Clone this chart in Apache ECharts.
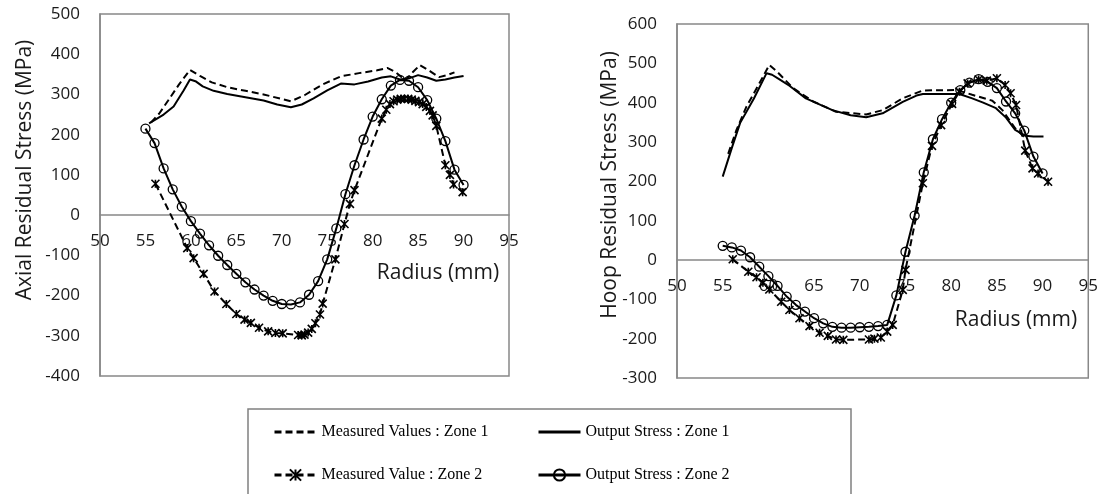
<!DOCTYPE html>
<html lang="en">
<head>
    <meta charset="UTF-8">
    <script src="https://cdn.jsdelivr.net/npm/echarts@6/dist/echarts.min.js"></script>
    <style type="text/css">
        html, body, #main {
            height: 100%;
            width: 100%;
            margin: 0;
            padding: 0;
            background: #fff;
        }
    </style>
    <title>Residual stress</title>
</head>
<body>
<div id="main"></div>
<script>
    // axis ticks
    var radiusTicks = [50, 95, 5];
    var axialTicks = [-400, 500, 100];
    var hoopTicks = [-300, 600, 100];

    var seriesNames = [
        'Measured Values : Zone 1',
        'Output Stress : Zone 1',
        'Measured Value : Zone 2',
        'Output Stress : Zone 2'
    ];

    // Axial residual stress, [radius mm, MPa]
    var axialMeasZ1 = [
        [55.6, 230], [56.5, 252], [57.5, 285], [58.7, 325], [59.9, 361], [61.0, 346],
        [62.3, 330], [64.0, 318], [66.0, 309], [68.0, 300], [71.0, 283], [72.5, 298],
        [74.5, 325], [76.5, 345], [78.5, 353], [80.5, 360], [81.6, 366], [82.5, 356],
        [83.6, 335], [84.4, 355], [85.2, 373], [86.3, 358], [87.3, 343], [88.2, 348],
        [89.0, 355]
    ];
    var axialOutZ1 = [
        [55.4, 228], [57.0, 250], [58.1, 270], [59.2, 310], [59.9, 337], [60.5, 333],
        [61.3, 320], [62.5, 309], [64.0, 301], [66.0, 293], [68.0, 285], [69.5, 275],
        [71.0, 268], [72.2, 275], [73.5, 290], [75.0, 310], [76.5, 327], [78.0, 325],
        [79.5, 332], [81.0, 342], [82.0, 345], [83.0, 337], [84.0, 340], [85.0, 348],
        [86.0, 342], [87.0, 334], [88.0, 337], [89.0, 342], [90.0, 346]
    ];
    var axialMeasZ2 = [
        [56.1, 78], [59.6, -82], [60.3, -107], [61.4, -146], [62.6, -190], [63.9, -221],
        [65.0, -246], [65.9, -260], [66.6, -268], [67.5, -280], [68.5, -289], [69.3, -293],
        [70.1, -294], [71.8, -298], [72.2, -299], [72.5, -297], [72.9, -292], [73.3, -283],
        [73.7, -269], [74.2, -247], [74.5, -220], [75.9, -110], [76.9, -22], [77.5, 28],
        [78.0, 62], [81.0, 240], [81.5, 262], [81.9, 276], [82.3, 283], [82.7, 287],
        [83.1, 289], [83.5, 289], [83.9, 289], [84.3, 287], [84.7, 284], [85.1, 281],
        [85.5, 276], [85.9, 269], [86.3, 259], [86.6, 248], [87.0, 222], [88.0, 124],
        [88.5, 100], [88.9, 76], [89.9, 57]
    ];
    var axialOutZ2 = [
        [55, 215], [56, 179], [57, 116], [58, 64], [59, 21], [60, -15], [61, -46],
        [62, -75], [63, -101], [64, -124], [65, -146], [66, -167], [67, -185], [68, -200],
        [69, -213], [70, -221], [71, -222], [72, -217], [73, -198], [74, -164], [75, -110],
        [76, -33], [77, 52], [78, 124], [79, 188], [80, 245], [81, 288], [82, 322],
        [83, 336], [84, 334], [85, 318], [86, 286], [87, 240], [88, 184], [89, 113], [90, 75]
    ];

    // Hoop residual stress, [radius mm, MPa]
    var hoopMeasZ1 = [
        [55.6, 270], [56.5, 330], [57.6, 390], [58.8, 440], [60.1, 496], [60.9, 480],
        [62.7, 437], [64.9, 403], [67.4, 377], [70.7, 370], [72.5, 381], [74.7, 411],
        [76.9, 431], [80.5, 432], [81.2, 428], [82.3, 420], [84.5, 405], [85.6, 381],
        [87.0, 335], [88.1, 310]
    ];
    var hoopOutZ1 = [
        [55.0, 212], [56.0, 285], [56.9, 348], [58.4, 410], [59.8, 475], [60.4, 471],
        [61.3, 458], [62.3, 443], [64.1, 411], [67.0, 381], [69.0, 368], [70.7, 363],
        [72.5, 373], [74.7, 402], [76.2, 418], [76.9, 422], [79.0, 422], [80.9, 422],
        [82.3, 411], [83.5, 400], [84.9, 386], [86.0, 362], [87.0, 331], [88.1, 316],
        [89.0, 314], [90.1, 314]
    ];
    var hoopMeasZ2 = [
        [56.1, 2], [57.8, -30], [58.7, -44], [59.4, -58], [60.1, -75], [61.4, -106],
        [62.3, -127], [63.4, -148], [64.5, -168], [65.6, -185], [66.5, -193], [67.4, -202],
        [68.2, -203], [71.0, -202], [71.6, -200], [72.3, -197], [73.0, -182], [73.6, -165],
        [74.7, -76], [75.0, -25], [76.9, 195], [77.9, 290], [78.9, 343], [80.1, 397],
        [80.9, 428], [81.8, 449], [83.0, 459], [83.9, 456], [85.0, 462], [85.9, 445],
        [86.5, 424], [87.1, 394], [88.1, 278], [88.9, 233], [89.5, 220], [90.6, 199]
    ];
    var hoopOutZ2 = [
        [55, 36], [56, 32], [57, 24], [58, 7], [59, -17], [60, -41], [61, -66],
        [62, -93], [63, -114], [64, -131], [65, -148], [66, -161], [67, -170], [68, -172],
        [69, -172], [70, -171], [71, -170], [72, -168], [73, -165], [74, -90], [75, 21],
        [76, 113], [77, 223], [78, 307], [79, 358], [80, 400], [81, 432], [82, 451],
        [83, 460], [84, 453], [85, 437], [86, 403], [87, 373], [88, 329], [89, 263], [90, 220]
    ];

    var axisFont = 'Open Sans';
    var starSymbol = 'path://M0,0L10,10M10,0L0,10M5,0L5,10';

    var grids = [
        {left: 100, top: 14, width: 409, height: 362},
        {left: 677, top: 24, width: 413, height: 354}
    ];
    var yTicks = [axialTicks, hoopTicks];

    // the radius axis sits on the zero line, labels under it
    function xAxisOf(g) {
        var t = yTicks[g];
        var zeroFromBottom = grids[g].height * (0 - t[0]) / (t[1] - t[0]);
        return {
            type: 'value', gridIndex: g, position: 'bottom',
            offset: -zeroFromBottom,
            min: radiusTicks[0], max: radiusTicks[1], interval: radiusTicks[2],
            axisLine: {onZero: false, lineStyle: {color: '#888', width: 1.5}},
            axisTick: {show: false},
            splitLine: {show: false},
            axisLabel: {margin: 18, fontFamily: axisFont, fontSize: 17, color: '#1a1a1a'}
        };
    }

    function yAxisOf(g) {
        var t = yTicks[g];
        return {
            type: 'value', gridIndex: g,
            min: t[0], max: t[1], interval: t[2],
            axisLine: {show: true, onZero: false, lineStyle: {color: '#888', width: 1.5}},
            axisTick: {show: false},
            splitLine: {show: false},
            axisLabel: {margin: 20, fontFamily: axisFont, fontSize: 17, color: '#1a1a1a'}
        };
    }

    function makeSeries(g, list) {
        var styles = [
            {dash: [7, 4], symbol: 'circle', show: false},
            {dash: 'solid', symbol: 'circle', show: false},
            {dash: [7, 4], symbol: starSymbol, show: true},
            {dash: 'solid', symbol: 'circle', show: true}
        ];
        return list.map(function (data, i) {
            var s = styles[i];
            var itemStyle;
            if (!s.show) {
                itemStyle = {color: 'rgba(0,0,0,0)', borderWidth: 0};
            } else if (i === 3) {
                itemStyle = {color: 'rgba(0,0,0,0)', borderColor: '#000', borderWidth: 1.3};
            } else {
                itemStyle = {color: '#000', borderColor: '#000', borderWidth: 1.6};
            }
            return {
                name: seriesNames[i],
                type: 'line',
                xAxisIndex: g,
                yAxisIndex: g,
                data: data,
                symbol: s.symbol,
                symbolSize: i === 3 ? 9 : 8,
                showSymbol: s.show,
                lineStyle: {color: '#000', width: 2, type: s.dash},
                itemStyle: itemStyle,
                z: 2 + i
            };
        });
    }

    var myChart = echarts.init(document.getElementById('main'));

    var legendText = {fontFamily: 'Liberation Serif', fontSize: 16, color: '#000'};

    var option = {
        animation: false,
        backgroundColor: '#fff',
        grid: grids.map(function (g) {
            return {
                left: g.left, top: g.top, width: g.width, height: g.height,
                show: true, borderColor: '#888', borderWidth: 1.5
            };
        }),
        xAxis: [xAxisOf(0), xAxisOf(1)],
        yAxis: [yAxisOf(0), yAxisOf(1)],
        legend: [
            {
                left: 273, top: 424, orient: 'vertical', padding: 0,
                itemWidth: 42, itemHeight: 14, itemGap: 27,
                lineStyle: {width: 3},
                textStyle: legendText,
                data: [seriesNames[0], seriesNames[2]]
            },
            {
                left: 537, top: 424, orient: 'vertical', padding: 0,
                itemWidth: 42, itemHeight: 14, itemGap: 27,
                lineStyle: {width: 3},
                textStyle: legendText,
                data: [seriesNames[1], seriesNames[3]]
            }
        ],
        graphic: [
            {
                type: 'rect', shape: {x: 248, y: 409, width: 603, height: 120},
                style: {fill: 'none', stroke: '#808080', lineWidth: 1.5}
            },
            {
                type: 'text', x: 25, y: 170, rotation: Math.PI / 2,
                style: {text: 'Axial Residual Stress (MPa)', font: '21px "Open Sans"', fill: '#1a1a1a', align: 'center', verticalAlign: 'middle'}
            },
            {
                type: 'text', x: 610, y: 185, rotation: Math.PI / 2,
                style: {text: 'Hoop Residual Stress (MPa)', font: '21px "Open Sans"', fill: '#1a1a1a', align: 'center', verticalAlign: 'middle'}
            },
            {
                type: 'text', x: 438, y: 273,
                style: {text: 'Radius (mm)', font: '21px "Open Sans"', fill: '#1a1a1a', align: 'center', verticalAlign: 'middle'}
            },
            {
                type: 'text', x: 1016, y: 320,
                style: {text: 'Radius (mm)', font: '21px "Open Sans"', fill: '#1a1a1a', align: 'center', verticalAlign: 'middle'}
            }
        ],
        series: makeSeries(0, [axialMeasZ1, axialOutZ1, axialMeasZ2, axialOutZ2])
            .concat(makeSeries(1, [hoopMeasZ1, hoopOutZ1, hoopMeasZ2, hoopOutZ2]))
    };

    myChart.setOption(option);
</script>
</body>
</html>
